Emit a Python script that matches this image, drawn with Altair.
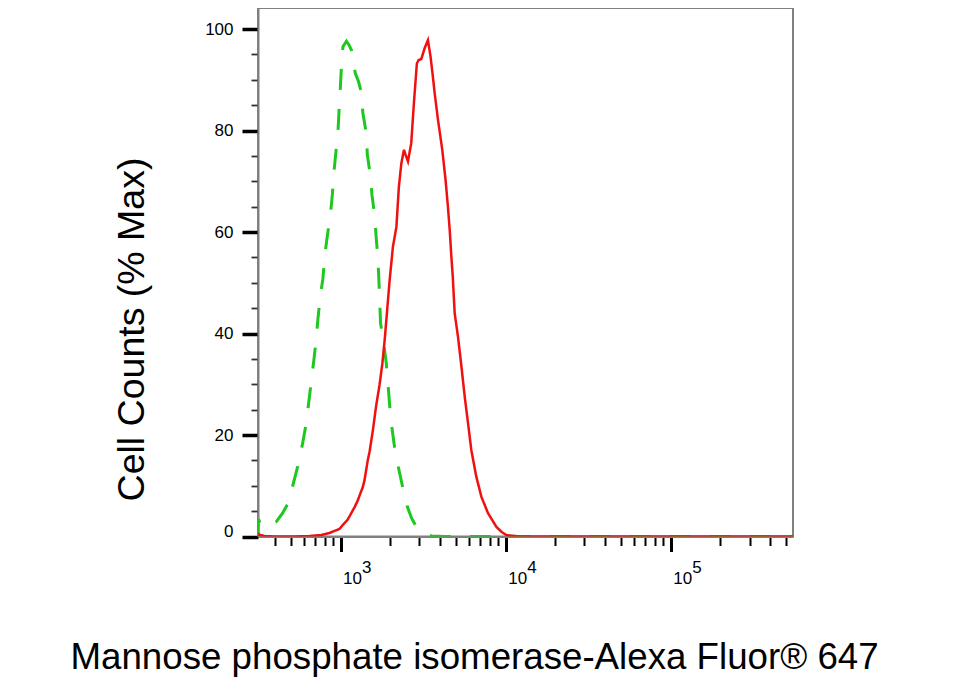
import altair as alt
import pandas as pd

# ---- data (intensity, % of max) ----
green_x = [316, 318, 332, 362, 407, 445, 480, 514, 556, 586, 619, 640, 664, 689, 713,
           728, 753, 782, 800, 830, 867, 891, 910, 933, 964, 977, 995, 1009, 1033, 1084,
           1127, 1169, 1227, 1285, 1334, 1365, 1432, 1452, 1514, 1549, 1607, 1644, 1683,
           1706, 1746, 1824, 1892, 1936, 1982, 2028, 2123, 2223, 2388, 2535, 2692, 2877,
           3155, 3565, 4266, 6000, 10000, 30000, 100000, 300000, 550000]
green_y = [0, 3.4, 2.1, 1.9, 2.9, 4.6, 6.5, 10.1, 14.4, 18.0, 22.3, 26.2, 30.5, 34.8, 39.1,
           42.7, 47.3, 50.9, 55.1, 59.1, 63.3, 67.3, 71.6, 75.2, 79.8, 83.4, 88.0, 91.9, 96.5, 97.6,
           96.8, 95.7, 91.3, 89.6, 87.6, 83.4, 79.4, 75.2, 71.2, 67.3, 63.3, 58.8, 54.8,
           50.5, 42.0, 38.1, 34.1, 30.2, 25.9, 22.3, 17.6, 14.1, 9.4, 5.9, 3.6, 1.9,
           0.6, 0.1, 0, 0, 0, 0, 0, 0, 0]

red_x = [316, 318, 346, 398, 526, 649, 764, 857, 920, 986, 1033, 1102, 1161, 1216, 1274,
         1321, 1365, 1396, 1462, 1500, 1570, 1644, 1722, 1791, 1849, 1919, 1982, 2075, 2178,
         2254, 2333, 2421, 2477, 2559, 2679, 2780, 2897, 2972, 3083, 3228, 3381, 3508, 3614,
         3715, 3890, 4130, 4325, 4467, 4581, 4688, 4775, 4909, 5140, 5395, 5649, 5916, 6194,
         6637, 7129, 7816, 8790, 9462, 10093, 12162, 30000, 100000, 300000, 550000]
red_y = [0.7, 0.4, 0.1, 0, 0, 0.1, 0.3, 0.7, 1.1, 1.5, 2.3, 3.3, 4.6, 5.8, 7.2,
         8.6, 9.8, 11.1, 15.1, 16.8, 21.0, 25.9, 29.9, 34.1, 38.7, 45.0, 50.5, 57.1, 61.0,
         68.9, 73.5, 76.2, 75.2, 73.9, 77.5, 85.4, 93.2, 93.9, 94.1, 96.2, 97.8, 94.5, 90.9,
         87.3, 82.1, 76.2, 70.2, 65.0, 60.4, 55.1, 51.5, 44.0, 39.4, 33.5, 27.5, 22.3, 17.0,
         11.8, 7.8, 4.6, 1.9, 0.9, 0.3, 0, 0, 0, 0, 0]

x_major = [1000, 10000, 100000]
x_exponents = ["3", "4", "5"]
x_minor = [400, 500, 600, 700, 800, 900,
           2000, 3000, 4000, 5000, 6000, 7000, 8000, 9000,
           20000, 30000, 40000, 50000, 60000, 70000, 80000, 90000,
           200000, 300000, 400000, 500000]
y_ticks = [0, 5, 10, 15, 20, 25, 30, 35, 40, 45, 50, 55, 60, 65, 70, 75, 80, 85, 90, 95, 100]
y_labeled = [0, 20, 40, 60, 80, 100]

x_title = "Mannose phosphate isomerase-Alexa Fluor® 647"
y_title = "Cell Counts (% Max)"

green_df = pd.DataFrame({"x": green_x, "y": green_y})
red_df = pd.DataFrame({"x": red_x, "y": red_y})

FONT = "Liberation Sans"
GRAY = "#808080"

major_test = " || ".join(f"datum.value == {v}" for v in x_major)
ylab_test = " || ".join(f"datum.value == {v}" for v in y_labeled)
exp_expr = "''"
for v, e in zip(reversed(x_major), reversed(x_exponents)):
    exp_expr = f"datum.value == {v} ? '{e}' : ({exp_expr})"

xscale = alt.Scale(type="log", domain=[316, 550000], nice=False)
yscale = alt.Scale(domain=[0, 104.14], nice=False, zero=False)

y_axis = alt.Axis(
    values=y_ticks, grid=False,
    title=y_title, titleFont=FONT, titleFontSize=37.5, titleFontWeight="normal",
    titleColor="black", titleAngle=270, titleAlign="center", titleBaseline="alphabetic",
    titleX=-115, titleY=321,
    labelExpr=f"({ylab_test}) ? datum.label : ''",
    labelFont=FONT, labelFontSize=17, labelColor="black", labelPadding=9,
    labelOverlap=False, labelFlush=False,
    labelBaseline={"condition": {"test": "datum.value == 0", "value": "alphabetic"}, "value": "middle"},
    tickSize={"condition": {"test": ylab_test, "value": 16}, "value": 7},
    tickWidth={"condition": {"test": ylab_test, "value": 3.5}, "value": 1.8},
    tickColor={"condition": {"test": ylab_test, "value": "black"}, "value": "#333333"},
    domainColor=GRAY, domainWidth=2,
)

x_axis_main = alt.Axis(
    orient="bottom", values=x_major + x_minor, grid=False,
    title=x_title, titleFont=FONT, titleFontSize=36.7, titleFontWeight="normal",
    titleColor="black", titleAlign="left", titleBaseline="alphabetic",
    titleX=-188, titleY=131.8,
    labelExpr=f"({major_test}) ? '10' : ''",
    labelFont=FONT, labelFontSize=17, labelColor="black",
    labelAlign="left", labelBaseline="alphabetic", labelOffset=2, labelPadding=31.5,
    labelOverlap=False, labelFlush=False,
    tickSize={"condition": {"test": major_test, "value": 15}, "value": 9},
    tickWidth={"condition": {"test": major_test, "value": 3}, "value": 2},
    tickColor="black",
    domainColor=GRAY, domainWidth=2,
)

x_axis_exp = alt.Axis(
    orient="bottom", values=x_major, grid=False, ticks=False, domain=False,
    title="", labelExpr=exp_expr,
    labelFont=FONT, labelFontSize=17, labelColor="black",
    labelAlign="left", labelBaseline="alphabetic", labelOffset=21, labelPadding=35.5,
    labelOverlap=False, labelFlush=False,
)

green = alt.Chart(green_df).mark_line(
    color="#1ec81e", strokeWidth=3, strokeDash=[21, 19], clip=True
).encode(
    x=alt.X("x:Q", scale=xscale, axis=x_axis_main),
    y=alt.Y("y:Q", scale=yscale, axis=y_axis),
    order="x:Q",
)

red = alt.Chart(red_df).mark_line(
    color="#f01010", strokeWidth=2.5, clip=True
).encode(
    x=alt.X("x:Q", scale=xscale, axis=x_axis_exp),
    y=alt.Y("y:Q", scale=yscale, axis=y_axis),
    order="x:Q",
)

chart = alt.layer(green, red).resolve_axis(x="independent").properties(
    width=535, height=528.5,
    padding={"left": 250, "top": 0, "right": 150, "bottom": 145},
    autosize=alt.AutoSizeParams(type="none"),
    background="white",
).configure_view(stroke=GRAY, strokeWidth=2)

chart.save("out.html", embed_options={"renderer": "svg", "actions": False})
